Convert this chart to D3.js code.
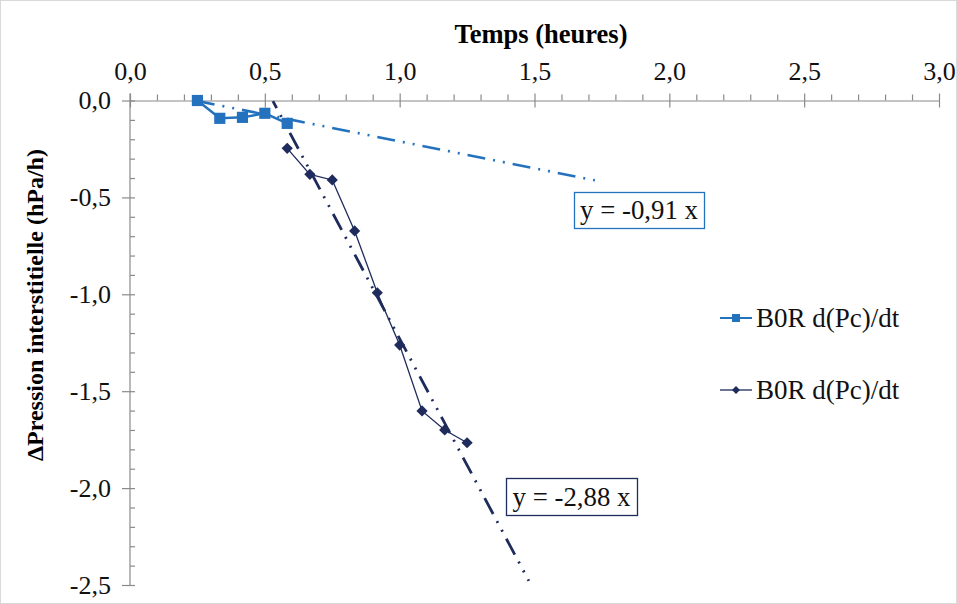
<!DOCTYPE html>
<html><head><meta charset="utf-8">
<script src="https://cdn.jsdelivr.net/npm/d3@7"></script>
<style>body{margin:0;background:#fff}svg{display:block}</style>
</head><body>
<svg id="c" width="957" height="604"></svg>
<script>
const xMajorTicks = [0, 0.5, 1.0, 1.5, 2.0, 2.5, 3.0];
const yMajorTicks = [0, -0.5, -1.0, -1.5, -2.0, -2.5];
const series1X = [0.25, 0.333, 0.417, 0.5, 0.583];
const series1Y = [0.0, -0.092, -0.087, -0.066, -0.118];
const series2X = [0.583, 0.667, 0.75, 0.833, 0.917, 1.0, 1.083, 1.167, 1.25];
const series2Y = [-0.247, -0.381, -0.41, -0.673, -0.992, -1.262, -1.602, -1.70, -1.766];
const trend1X = [0.248, 1.724];
const trend1Y = [-0.002, -0.412];
const trend2X = [0.530, 1.479];
const trend2Y = [-0.003, -2.479];
const seriesNames = ["B0R d(Pc)/dt", "B0R d(Pc)/dt"];
const equations = ["y = -0,91 x", "y = -2,88 x"];
const xTitle = "Temps (heures)";
const yTitle = "\u0394Pression interstitielle  (hPa/h)";

const C1 = "#2472BE", C2 = "#1E2B5C", AX = "#8a8a8a";
const svg = d3.select("#c");
svg.append("rect").attr("x",0.5).attr("y",0.5).attr("width",956).attr("height",603)
  .attr("fill","#fff").attr("stroke","#d9d9d9");

const x = d3.scaleLinear().domain([0,3]).range([130,939]);
const y = d3.scaleLinear().domain([0,-2.5]).range([100.5,585]);
const loc = d3.formatLocale({decimal:",", thousands:" ", grouping:[3], currency:["",""], minus:"-"});
const fmt = loc.format(".1f");
const font = "'Liberation Serif','Times New Roman',serif";

// minor ticks
const gxm = svg.append("g").attr("transform",`translate(0,${y(0)})`)
  .call(d3.axisTop(x).tickValues(d3.range(0,31).map(i=>i/10).filter(v=>Math.abs(v*2-Math.round(v*2))>1e-6)).tickSize(6).tickFormat(""));
gxm.select(".domain").remove();
const gym = svg.append("g").attr("transform",`translate(${x(0)},0)`)
  .call(d3.axisRight(y).tickValues(d3.range(0,26).map(i=>-i/10).filter(v=>Math.abs(v*2-Math.round(v*2))>1e-6)).tickSize(5).tickFormat(""));
gym.select(".domain").remove();

const gx = svg.append("g").attr("transform",`translate(0,${y(0)})`)
  .call(d3.axisTop(x).tickValues(xMajorTicks).tickSize(6).tickPadding(15).tickSizeOuter(0).tickFormat(fmt));
gx.selectAll(".tick line").attr("y1",7).attr("y2",-7);
const gy = svg.append("g").attr("transform",`translate(${x(0)},0)`)
  .call(d3.axisLeft(y).tickValues(yMajorTicks).tickSize(8).tickPadding(11).tickSizeOuter(0).tickFormat(fmt));
gy.selectAll(".tick line").attr("x1",-8).attr("x2",5);
[gx,gy,gxm,gym].forEach(g=>{
  g.attr("font-family",font).attr("font-size",26);
  g.selectAll("line,path").attr("stroke",AX).attr("stroke-width",1.2);
  g.selectAll("text").style("font-family",font).style("font-size","26px").attr("fill","#111");
});
gy.select(".domain").attr("d",`M0,${y(0)-7}V${y(-2.5)}`);

svg.append("text").attr("x",541).attr("y",43).attr("text-anchor","middle")
  .attr("font-family",font).attr("font-weight","bold").attr("font-size",26.5).text(xTitle);
svg.append("text").attr("transform","translate(43,305) rotate(-90)").attr("text-anchor","middle")
  .attr("font-family",font).attr("font-weight","bold").attr("font-size",24).text(yTitle);

const line = d3.line().x(d=>x(d[0])).y(d=>y(d[1]));
const s1 = series1X.map((v,i)=>[v,series1Y[i]]);
const s2 = series2X.map((v,i)=>[v,series2Y[i]]);

svg.append("path").attr("d",line(s1)).attr("fill","none").attr("stroke",C1).attr("stroke-width",2.5);
svg.append("path").attr("d",line(s2)).attr("fill","none").attr("stroke",C2).attr("stroke-width",1.3);

const dashPat = "18,8,2,8,2,8";
svg.append("path").attr("d",line(trend1X.map((v,i)=>[v,trend1Y[i]]))).attr("fill","none")
  .attr("stroke",C1).attr("stroke-width",2.6).attr("stroke-dasharray",dashPat);
svg.append("path").attr("d",line(trend2X.map((v,i)=>[v,trend2Y[i]]))).attr("fill","none")
  .attr("stroke",C2).attr("stroke-width",2.8).attr("stroke-dasharray",dashPat).attr("stroke-dashoffset",10);

const diamondType = d3.symbolDiamond2 || d3.symbolDiamond;
const sq = d3.symbol().type(d3.symbolSquare).size(125);
const dm = d3.symbol().type(diamondType).size(80);
svg.selectAll(".m1").data(s1).join("path").attr("d",sq).attr("fill",C1)
  .attr("transform",d=>`translate(${x(d[0])},${y(d[1])})`);
svg.selectAll(".m2").data(s2).join("path").attr("d",dm).attr("fill",C2)
  .attr("transform",d=>`translate(${x(d[0])},${y(d[1])})`);

// equation boxes
const eqPos = [{x:574,y:192,w:130,h:36,c:C1},{x:506,y:478,w:131,h:37,c:C2}];
equations.forEach((t,i)=>{
  const p = eqPos[i];
  svg.append("rect").attr("x",p.x+0.5).attr("y",p.y+0.5).attr("width",p.w).attr("height",p.h)
    .attr("fill","#fff").attr("stroke",p.c).attr("stroke-width",1.3);
  svg.append("text").attr("x",p.x+p.w/2).attr("y",p.y+p.h/2+9).attr("text-anchor","middle")
    .attr("font-family",font).attr("font-size",26.8).attr("fill","#111").text(t);
});

// legend
const legY = [318, 390];
seriesNames.forEach((n,i)=>{
  const g = svg.append("g").attr("transform",`translate(720,${legY[i]})`);
  g.append("line").attr("x1",0).attr("x2",32).attr("stroke",i?C2:C1).attr("stroke-width",i?1.3:2);
  g.append("path").attr("d",i?d3.symbol().type(diamondType).size(40)():d3.symbol().type(d3.symbolSquare).size(64)())
    .attr("transform","translate(16,0)").attr("fill",i?C2:C1);
  g.append("text").attr("x",36).attr("y",9).attr("font-family",font).attr("font-size",27)
    .attr("fill","#111").text(n);
});
</script>
</body></html>
